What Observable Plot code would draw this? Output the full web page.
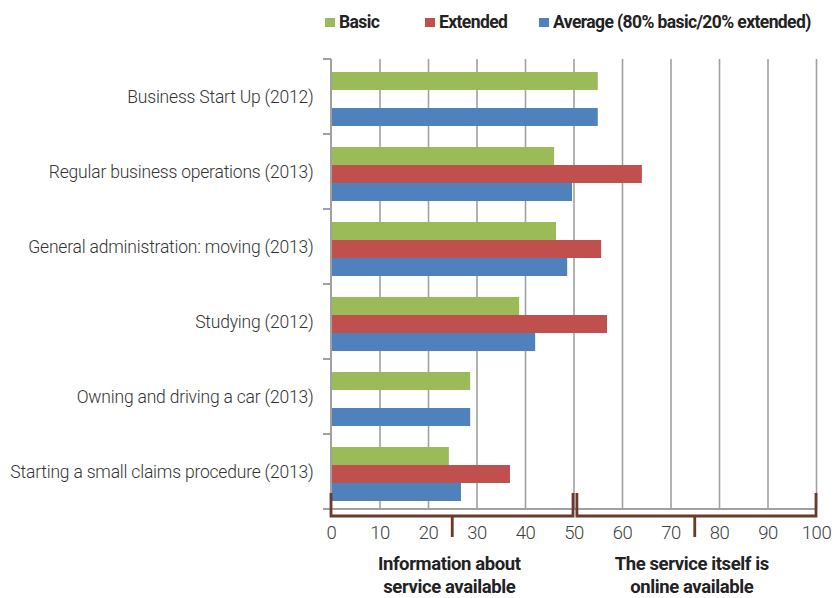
<!DOCTYPE html>
<html>
<head>
<meta charset="utf-8">
<script src="https://cdn.jsdelivr.net/npm/d3@7"></script>
<script src="https://cdn.jsdelivr.net/npm/@observablehq/plot@0.6"></script>
<style>
  body { margin: 0; background: #fff; }
  #chart { width: 839px; height: 598px; }
</style>
</head>
<body>
<div id="chart"></div>
<script>
// ---- data ----
const categories = [
  "Business Start Up (2012)",
  "Regular business operations (2013)",
  "General administration: moving (2013)",
  "Studying (2012)",
  "Owning and driving a car (2013)",
  "Starting a small claims procedure (2013)"
];
const seriesNames = ["Basic", "Extended", "Average (80% basic/20% extended)"];
const basicValues    = [55.0, 46.0, 46.4, 38.8, 28.7, 24.3];
const extendedValues = [null, 64.1, 55.7, 56.9, null, 36.9];
const averageValues  = [55.0, 49.7, 48.7, 42.1, 28.7, 26.8];
const xTicks = [0, 10, 20, 30, 40, 50, 60, 70, 80, 90, 100];
const seriesColors = ["#9BBB59", "#C0504D", "#4F81BD"];
const brackets = [
  {from: 0, to: 49.9, mid: 25, lines: ["Information about", "service available"]},
  {from: 50.7, to: 100, mid: 75, lines: ["The service itself is", "online available"]}
];

(function () {
const FONT = 'Roboto, "Liberation Sans Narrow", sans-serif';

const valuesBySeries = [basicValues, extendedValues, averageValues];
const table = [];
categories.forEach((c, i) => {
  seriesNames.forEach((s, j) => {
    const v = valuesBySeries[j][i];
    if (v != null) table.push({category: c, series: s, value: v});
  });
});

const plot = Plot.plot({
  width: 839,
  height: 598,
  marginLeft: 331,
  marginRight: 23,
  marginTop: 56,
  marginBottom: 87,
  style: {fontFamily: FONT, fontSize: "18px", color: "#404040", background: "#fff", overflow: "visible"},
  x: {domain: [0, 100], ticks: xTicks, label: null},
  fy: {domain: categories, padding: 0, label: null},
  y: {domain: seriesNames, paddingInner: 0, paddingOuter: 0.56, align: 0.63, axis: null},
  color: {domain: seriesNames, range: seriesColors},
  marks: [
    Plot.gridX(xTicks.filter(d => d > 0), {stroke: "#a0a0a0", strokeOpacity: 1, strokeWidth: 1.6}),
    Plot.barX(table, {x: "value", y: "series", fy: "category", fill: "series"}),
    Plot.axisFy({anchor: "left", tickSize: 0, tickPadding: 18, fontSize: 17.5, fill: "#333", label: null}),
    Plot.axisX({ticks: xTicks, tickSize: 0, tickPadding: 16, fontSize: 18.5, label: null, fill: "#404040"})
  ]
});

document.getElementById("chart").appendChild(plot);

const svg = d3.select(plot);
// condensed look for the axis labels
svg.selectAll("g[aria-label='fy-axis tick label']")
  .attr("letter-spacing", "-0.2px").attr("font-weight", 300);
svg.selectAll("g[aria-label='x-axis tick label']").attr("letter-spacing", "-0.4px").attr("font-weight", 300);

// ---- decorations computed from the plot's scales ----
const xs = plot.scale("x");
const fys = plot.scale("fy");
const X = v => xs.apply(v);
const FY = c => fys.apply(c);
const bw = fys.bandwidth;
const yTop = FY(categories[0]);
const yBottom = FY(categories[categories.length - 1]) + bw;
const x0 = X(0);

const deco = svg.append("g");
const edges = categories.map(FY).concat([yBottom]);
deco.selectAll("line.sep").data(edges).join("line")
  .attr("x1", x0 - 8).attr("x2", x0).attr("y1", d => d).attr("y2", d => d)
  .attr("stroke", "#a0a0a0").attr("stroke-width", 2);
deco.append("line").attr("x1", x0).attr("x2", x0).attr("y1", yTop).attr("y2", yBottom)
  .attr("stroke", "#a0a0a0").attr("stroke-width", 2);
deco.append("line").attr("x1", x0 - 8).attr("x2", X(100)).attr("y1", yBottom).attr("y2", yBottom)
  .attr("stroke", "#a0a0a0").attr("stroke-width", 2);

const by = yBottom + 7;
const brown = "#6B3A2A";
brackets.forEach(b => {
  deco.append("path")
    .attr("d", `M${X(b.from)},${yBottom - 16}V${by}H${X(b.to)}V${yBottom - 16}M${X(b.mid)},${by}V${by + 21}`)
    .attr("fill", "none").attr("stroke", brown).attr("stroke-width", 2.8);
  const t = deco.append("text")
    .attr("x", X(b.mid)).attr("text-anchor", "middle")
    .attr("font-family", FONT).attr("font-weight", "bold").attr("font-size", 18.5)
    .attr("letter-spacing", "-0.4px").attr("fill", "#222");
  b.lines.forEach((ln, i) => {
    t.append("tspan").attr("x", X(b.mid) - 3).attr("y", 570 + i * 22.5).text(ln);
  });
});

const legendX = [325, 425, 539];
const lg = svg.append("g");
seriesNames.forEach((s, i) => {
  lg.append("rect").attr("x", legendX[i]).attr("y", 18).attr("width", 10).attr("height", 9)
    .attr("fill", seriesColors[i]);
  lg.append("text").attr("x", legendX[i] + 14).attr("y", 27.5).attr("text-anchor", "start")
    .attr("font-family", FONT).attr("font-weight", "bold").attr("font-size", 17.5)
    .attr("letter-spacing", "-0.6px").attr("fill", "#222")
    .text(s);
});
})();
</script>
</body>
</html>
